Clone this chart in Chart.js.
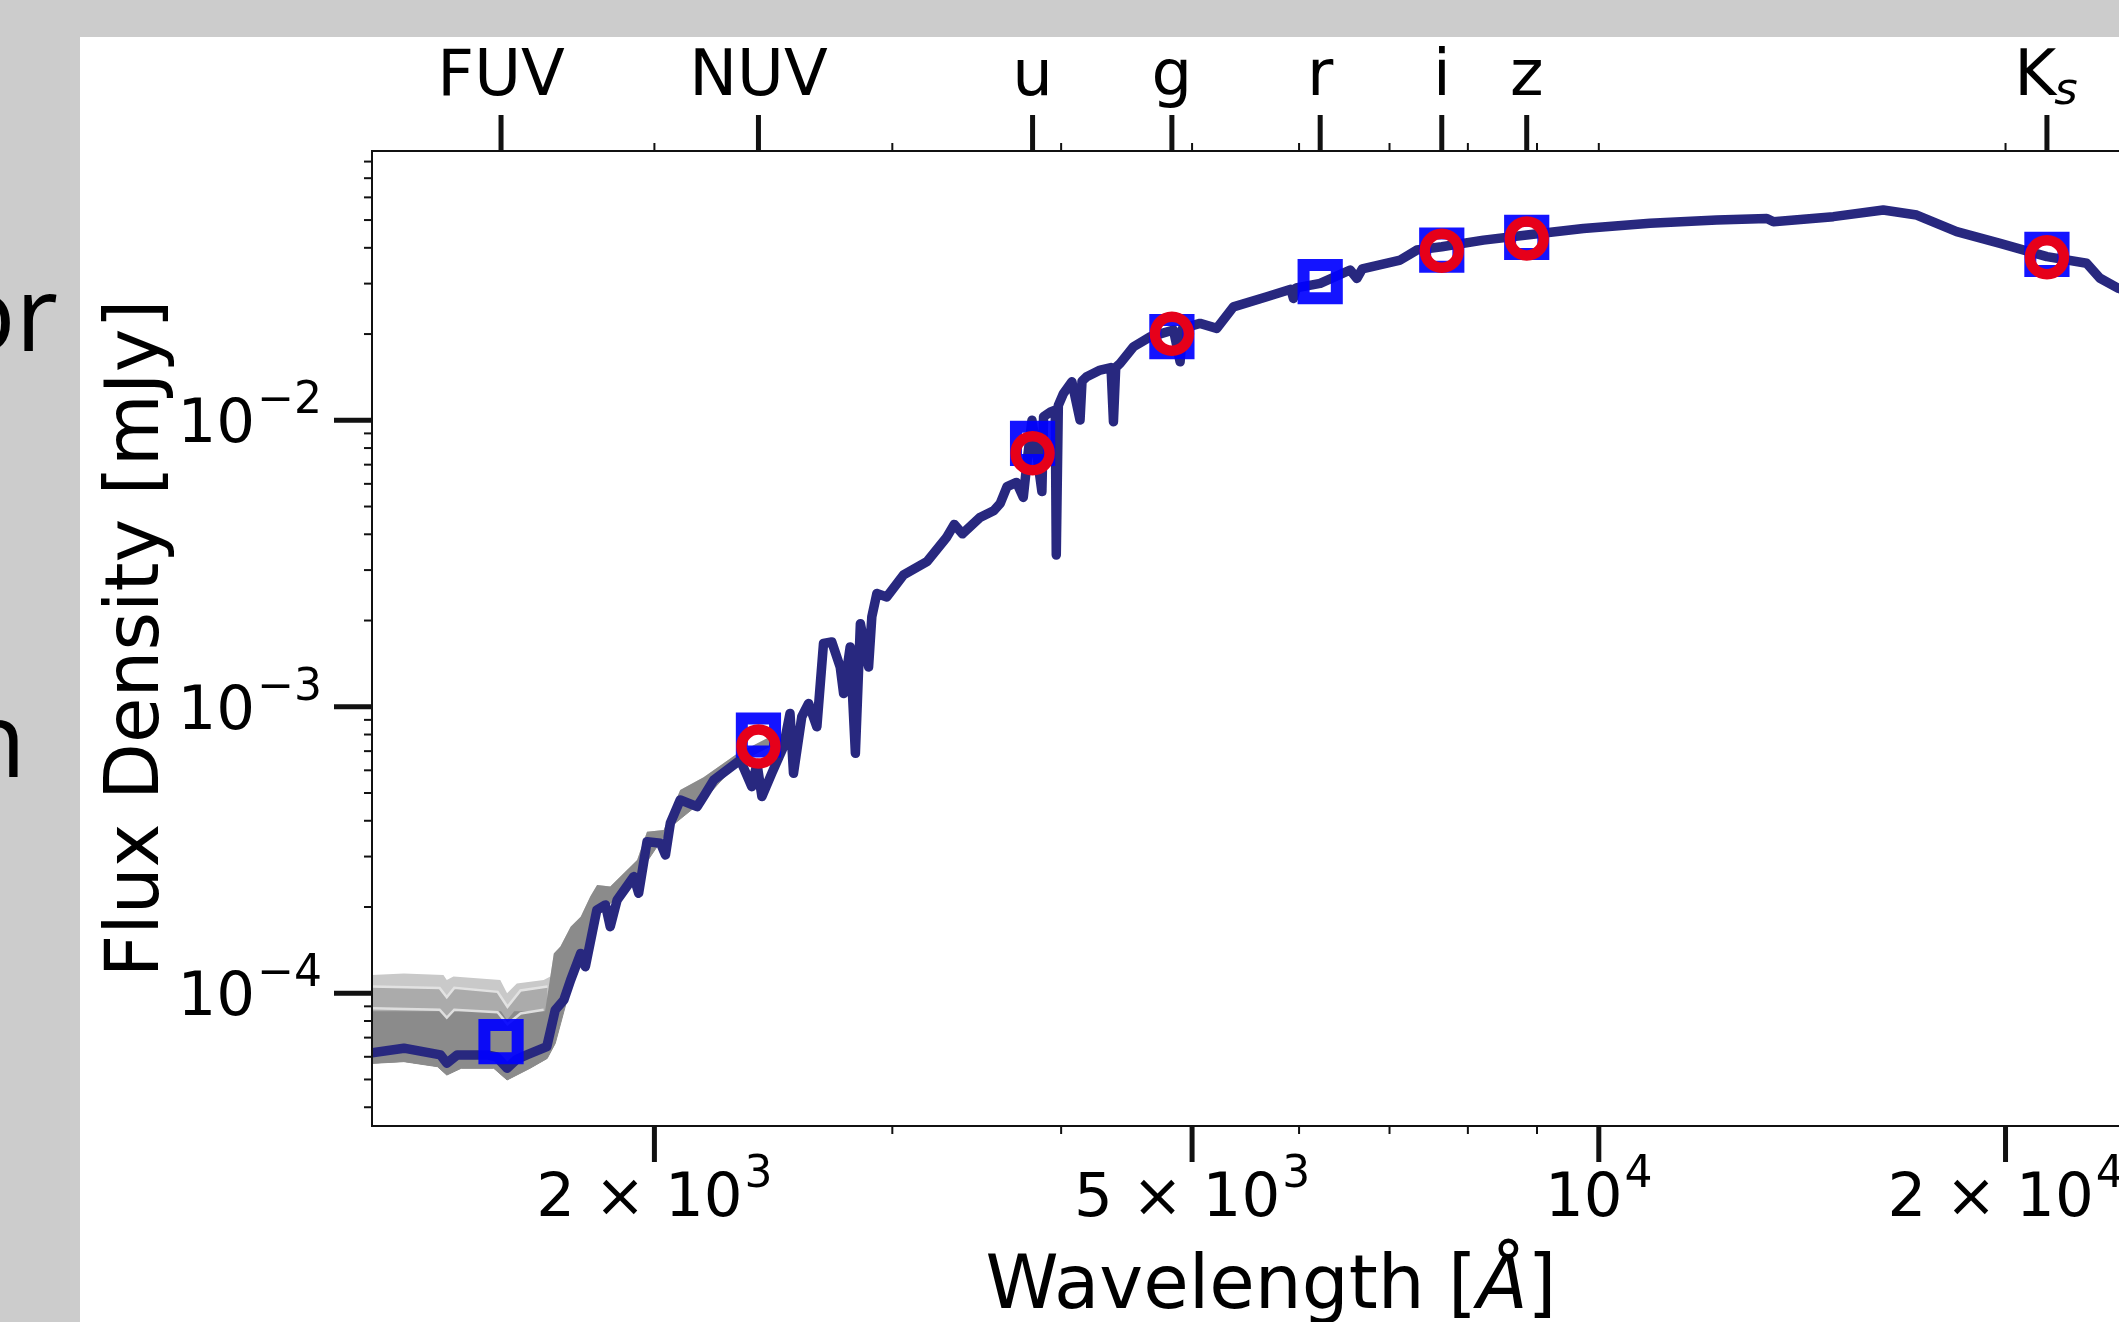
<!DOCTYPE html>
<html lang="en">
<head>
<meta charset="UTF-8">
<title>SED fit</title>
<script src="https://cdn.jsdelivr.net/npm/chart.js"></script>
<style>
    * { margin: 0; padding: 0; box-sizing: border-box; }
    html, body { width: 2119px; height: 1322px; overflow: hidden; background: #cccccc; }
    .slide-text {
        position: absolute;
        font-family: "Open Sans", sans-serif;
        font-size: 104px;
        line-height: 1;
        color: #000;
        white-space: nowrap;
        text-align: right;
    }
    #panel { position: absolute; left: 80px; top: 37px; width: 2100px; height: 1300px; background: #fff; }
    #sed { position: absolute; left: 0; top: 0; }
</style>
</head>
<body>
<!-- slide text cut off at the left edge -->
<div class="slide-text" style="left:-142px; width:200px; top:259px;">or</div>
<div class="slide-text" style="left:-174px; width:200px; top:685px;">n</div>

<div id="panel"><canvas id="sed" width="2090" height="1285"></canvas></div>

<script>
// axis ranges (wavelength in Angstrom, flux density in mJy)
var X_MIN = 1236, X_MAX = 26470;
var Y_MIN = 3.44e-5, Y_MAX = 0.0871;

// best-fit spectrum
var specWave = [1236,1305,1389,1404,1429,1504,1528,1556,1581,1609,
    1665,1689,1714,1734,1764,1778,1813,1840,1855,1877,
    1931,1947,1975,2021,2038,2055,2090,2151,2175,2213,
    2315,2361,2382,2402,2443,2492,2520,2535,2571,2601,
    2638,2668,2706,2745,2761,2792,2817,2841,2881,2897,
    2922,2972,3058,3182,3289,3334,3381,3483,3565,3606,
    3648,3707,3750,3776,3806,3837,3871,3882,3926,3960,
    3967,3981,4016,4074,4131,4145,4178,4275,4355,4373,
    4390,4423,4525,4655,4844,4899,4920,5068,5215,5365,
    5679,5916,5943,5970,6220,6546,6622,6683,7129,7333,
    7652,8216,8844,9741,10912,12226,13316,13467,14914,16238,
    17190,18402,19815,21462,22967,23496,24243,26730];
var specFlux = [6.20e-5,6.43e-5,6.09e-5,5.70e-5,6.09e-5,6.09e-5,6.00e-5,5.47e-5,5.87e-5,6.09e-5,
    6.51e-5,8.74e-5,9.47e-5,1.112e-4,1.377e-4,1.238e-4,1.950e-4,2.034e-4,1.708e-4,2.117e-4,
    2.553e-4,2.234e-4,3.382e-4,3.339e-4,3.038e-4,3.922e-4,4.73e-4,4.48e-4,4.86e-4,5.55e-4,
    6.52e-4,5.26e-4,6.34e-4,4.86e-4,5.86e-4,7.25e-4,9.48e-4,5.86e-4,9.23e-4,1.027e-3,
    8.51e-4,1.663e-3,1.684e-3,1.377e-3,1.112e-3,1.618e-3,6.88e-4,1.950e-3,1.377e-3,2.060e-3,
    2.485e-3,2.418e-3,2.884e-3,3.210e-3,3.887e-3,4.33e-3,4.015e-3,4.575e-3,4.83e-3,5.13e-3,
    5.87e-3,6.07e-3,5.38e-3,7.30e-3,1.0e-2,7.70e-3,5.64e-3,1.03e-2,1.067e-2,1.086e-2,
    3.386e-3,1.127e-2,1.241e-2,1.363e-2,1.002e-2,1.370e-2,1.419e-2,1.498e-2,1.528e-2,9.89e-3,
    1.528e-2,1.580e-2,1.806e-2,1.956e-2,2.066e-2,1.600e-2,2.093e-2,2.179e-2,2.093e-2,2.489e-2,
    2.701e-2,2.868e-2,2.664e-2,2.900e-2,3.005e-2,3.346e-2,3.128e-2,3.375e-2,3.626e-2,3.928e-2,
    4.036e-2,4.256e-2,4.431e-2,4.673e-2,4.870e-2,5.000e-2,5.066e-2,4.936e-2,5.138e-2,5.420e-2,
    5.206e-2,4.557e-2,4.148e-2,3.726e-2,3.532e-2,3.131e-2,2.889e-2,2.463e-2];

// grey band of sampled models (envelopes)
var bandTopWave = [1236,1305,1396,1404,1420,1538,1556,1582,1656,1675,1685,1704,1734,1764,1793,1814,1855,1898,1942,1975,2032,2055,2090,2175,2301,2438];
var bandTopFlux = [1.158e-4,1.173e-4,1.158e-4,1.112e-4,1.143e-4,1.112e-4,9.99e-5,1.082e-4,1.112e-4,1.143e-4,1.377e-4,1.455e-4,1.708e-4,1.851e-4,2.175e-4,2.386e-4,2.356e-4,2.621e-4,2.919e-4,3.665e-4,3.713e-4,4.244e-4,5.122e-4,5.68e-4,6.84e-4,7.87e-4];
var tier2Wave = [1236,1387,1404,1422,1531,1557,1592,1667];
var tier2Flux = [1.055e-4,1.044e-4,9.68e-5,1.044e-4,1.011e-4,8.97e-5,1.022e-4,1.055e-4];
var midTopWave = [1236,1390,1404,1420,1540,1556,1575,1660,1685,1704,1734,1764,1793,1814,1855,1898,1942,1975,2032,2055,2090,2175,2301,2438];
var midTopFlux = [8.65e-5,8.65e-5,8.32e-5,8.65e-5,8.65e-5,8.07e-5,8.65e-5,8.65e-5,1.377e-4,1.455e-4,1.708e-4,1.851e-4,2.175e-4,2.386e-4,2.356e-4,2.621e-4,2.919e-4,3.665e-4,3.713e-4,4.244e-4,5.122e-4,5.68e-4,6.84e-4,7.87e-4];
var paleWave = [1236,1387,1404,1422,1531,1557,1592,1656];
var paleFlux = [8.86e-5,8.76e-5,8.22e-5,8.76e-5,8.59e-5,7.79e-5,8.50e-5,8.76e-5];
var bandBotWave = [1236,1305,1382,1404,1439,1521,1556,1618,1666,1689,1734,1813,1931,2055,2175,2301,2438];
var bandBotFlux = [5.69e-5,5.77e-5,5.54e-5,5.18e-5,5.47e-5,5.47e-5,4.98e-5,5.47e-5,5.92e-5,6.68e-5,1.057e-4,1.858e-4,2.463e-4,3.803e-4,4.725e-4,6.34e-4,7.30e-4];

// photometry
var bandNames = ['FUV', 'NUV', 'u', 'g', 'r', 'i', 'z', 'Ks'];
var bandWave = [1540, 2388, 3810, 4831, 6220, 7652, 8844, 21462];
var obsFlux = [6.78e-5, 7.97e-4, 8.31e-3, 1.959e-2, 3.048e-2, 3.928e-2, 4.350e-2, 3.795e-2];
var modelFlux = [null, 7.26e-4, 7.67e-3, 2.004e-2, null, 3.908e-2, 4.312e-2, 3.706e-2];

// ticks
var xMajor = [2000, 5000, 10000, 20000];
var xMajorLabels = [['2 × 10', '3'], ['5 × 10', '3'], ['10', '4'], ['2 × 10', '4']];
var xMinor = [3000, 4000, 6000, 7000, 8000, 9000];
var xTopMinor = [2000, 3000, 4000, 5000, 6000, 7000, 8000, 9000, 10000, 20000];
var yMajor = [1e-4, 1e-3, 1e-2];
var yMajorLabels = [['10', '−4'], ['10', '−3'], ['10', '−2']];
var yMinor = [4e-5, 5e-5, 6e-5, 7e-5, 8e-5, 9e-5,
    2e-4, 3e-4, 4e-4, 5e-4, 6e-4, 7e-4, 8e-4, 9e-4,
    2e-3, 3e-3, 4e-3, 5e-3, 6e-3, 7e-3, 8e-3, 9e-3,
    2e-2, 3e-2, 4e-2, 5e-2, 6e-2, 7e-2, 8e-2];

var FONT = '"DejaVu Sans", sans-serif';

function pts(xs, ys) {
    var out = [];
    for (var i = 0; i < xs.length; i++) {
        if (ys[i] !== null) out.push({ x: xs[i], y: ys[i] });
    }
    return out;
}

// draws base text with a raised exponent; align 'center' or 'right'
function drawPow(ctx, base, sup, x, y, align) {
    ctx.font = '61px ' + FONT;
    var wb = ctx.measureText(base).width;
    ctx.font = '44px ' + FONT;
    var ws = ctx.measureText(sup).width;
    var total = wb + ws + 2;
    var x0 = align === 'right' ? x - total : x - total / 2;
    ctx.textAlign = 'left';
    ctx.textBaseline = 'alphabetic';
    ctx.font = '61px ' + FONT;
    ctx.fillText(base, x0, y);
    ctx.font = '44px ' + FONT;
    ctx.fillText(sup, x0 + wb + 2, y - 29);
}

function tick(ctx, x1, y1, x2, y2, w) {
    ctx.lineWidth = w;
    ctx.beginPath();
    ctx.moveTo(x1, y1);
    ctx.lineTo(x2, y2);
    ctx.stroke();
}

var axesPlugin = {
    id: 'sedAxes',
    afterDraw: function(chart) {
        var ctx = chart.ctx, a = chart.chartArea;
        var xs = chart.scales.x, ys = chart.scales.y;
        ctx.save();
        ctx.strokeStyle = '#111';
        ctx.fillStyle = '#000';
        ctx.lineCap = 'butt';

        // spines (right one is outside the picture)
        ctx.lineWidth = 2;
        ctx.beginPath();
        ctx.moveTo(a.right, a.top);
        ctx.lineTo(a.left, a.top);
        ctx.lineTo(a.left, a.bottom);
        ctx.lineTo(a.right, a.bottom);
        ctx.stroke();

        // bottom axis
        xMajor.forEach(function(v, i) {
            var px = xs.getPixelForValue(v);
            tick(ctx, px, a.bottom, px, a.bottom + 36, 5);
            drawPow(ctx, xMajorLabels[i][0], xMajorLabels[i][1], px, a.bottom + 90, 'center');
        });
        xMinor.forEach(function(v) {
            var px = xs.getPixelForValue(v);
            tick(ctx, px, a.bottom, px, a.bottom + 8, 2);
        });

        // top axis: filter positions
        xTopMinor.forEach(function(v) {
            var px = xs.getPixelForValue(v);
            tick(ctx, px, a.top, px, a.top - 8, 2);
        });
        ctx.textAlign = 'center';
        ctx.textBaseline = 'alphabetic';
        bandNames.forEach(function(name, i) {
            var px = xs.getPixelForValue(bandWave[i]);
            tick(ctx, px, a.top, px, a.top - 36, 5);
            if (name === 'Ks') {
                ctx.font = '64px ' + FONT;
                var wk = ctx.measureText('K').width;
                ctx.font = 'italic 45px ' + FONT;
                var wsub = ctx.measureText('s').width;
                var x0 = px - (wk + wsub) / 2;
                ctx.textAlign = 'left';
                ctx.font = '64px ' + FONT;
                ctx.fillText('K', x0, a.top - 56);
                ctx.font = 'italic 45px ' + FONT;
                ctx.fillText('s', x0 + wk - 2, a.top - 47);
                ctx.textAlign = 'center';
            } else {
                ctx.font = '64px ' + FONT;
                ctx.fillText(name, px, a.top - 56);
            }
        });

        // left axis
        yMajor.forEach(function(v, i) {
            var py = ys.getPixelForValue(v);
            tick(ctx, a.left - 38, py, a.left, py, 5);
            drawPow(ctx, yMajorLabels[i][0], yMajorLabels[i][1], a.left - 50, py + 22, 'right');
        });
        yMinor.forEach(function(v) {
            var py = ys.getPixelForValue(v);
            tick(ctx, a.left - 8, py, a.left, py, 2);
        });

        // axis titles
        ctx.textBaseline = 'alphabetic';
        ctx.font = '74px ' + FONT;
        var t1 = 'Wavelength [', t3 = ']';
        var w1 = ctx.measureText(t1).width, w3 = ctx.measureText(t3).width;
        ctx.font = 'italic 74px ' + FONT;
        var w2 = ctx.measureText('Å').width;
        var cx = (a.left + a.right) / 2;
        var x0 = cx - (w1 + w2 + w3) / 2;
        ctx.textAlign = 'left';
        ctx.font = '74px ' + FONT;
        ctx.fillText(t1, x0, a.bottom + 182);
        ctx.font = 'italic 74px ' + FONT;
        ctx.fillText('Å', x0 + w1, a.bottom + 182);
        ctx.font = '74px ' + FONT;
        ctx.fillText(t3, x0 + w1 + w2, a.bottom + 182);

        ctx.translate(a.left - 214, (a.top + a.bottom) / 2);
        ctx.rotate(-Math.PI / 2);
        ctx.textAlign = 'center';
        ctx.fillText('Flux Density [mJy]', 0, 0);
        ctx.restore();
    }
};

// datasets are listed top-most first (Chart.js draws index 0 last);
// the grey model band is filled down to the 'band bottom' envelope (index 4)
var ctx = document.getElementById('sed').getContext('2d');
var chart = new Chart(ctx, {
    type: 'line',
    data: {
        datasets: [
            {
                label: 'model photometry',
                data: pts(bandWave, modelFlux),
                showLine: false,
                pointStyle: 'circle',
                pointRadius: 17,
                pointBorderWidth: 10.5,
                pointBorderColor: '#e6001a',
                pointBackgroundColor: 'rgba(0,0,0,0)'
            },
            {
                label: 'observed photometry',
                data: pts(bandWave, obsFlux),
                showLine: false,
                pointStyle: 'rect',
                pointRadius: 23.5,
                pointBorderWidth: 12,
                pointBorderColor: 'rgba(0,0,255,0.92)',
                pointBackgroundColor: 'rgba(0,0,0,0)'
            },
            {
                label: 'best fit',
                data: pts(specWave, specFlux),
                borderColor: '#28287f',
                borderWidth: 9.5,
                borderJoinStyle: 'round',
                pointRadius: 0
            },
            {
                label: 'pale model',
                data: pts(paleWave, paleFlux),
                borderColor: '#dedede',
                borderWidth: 2.5,
                pointRadius: 0
            },
            {
                label: 'band bottom',
                data: pts(bandBotWave, bandBotFlux),
                borderWidth: 1,
                borderColor: '#8b8b8b',
                fill: false,
                pointRadius: 0
            },
            {
                label: 'band mid',
                data: pts(midTopWave, midTopFlux),
                borderWidth: 0,
                borderColor: 'rgba(0,0,0,0)',
                backgroundColor: '#8b8b8b',
                fill: 4,
                pointRadius: 0
            },
            {
                label: 'band tier',
                data: pts(tier2Wave, tier2Flux),
                borderWidth: 2.5,
                borderColor: '#e2e2e2',
                backgroundColor: '#ababab',
                fill: 4,
                pointRadius: 0
            },
            {
                label: 'band top',
                data: pts(bandTopWave, bandTopFlux),
                borderWidth: 0,
                borderColor: 'rgba(0,0,0,0)',
                backgroundColor: '#c9c9c9',
                fill: 4,
                pointRadius: 0
            }
        ]
    },
    options: {
        responsive: false,
        animation: false,
        layout: { autoPadding: false, padding: { left: 292, top: 114, right: 0, bottom: 196 } },
        plugins: {
            legend: { display: false },
            tooltip: { enabled: false }
        },
        elements: { line: { tension: 0 } },
        scales: {
            x: { type: 'logarithmic', display: false, min: X_MIN, max: X_MAX },
            y: { type: 'logarithmic', display: false, min: Y_MIN, max: Y_MAX }
        }
    },
    plugins: [axesPlugin]
});
</script>
</body>
</html>
